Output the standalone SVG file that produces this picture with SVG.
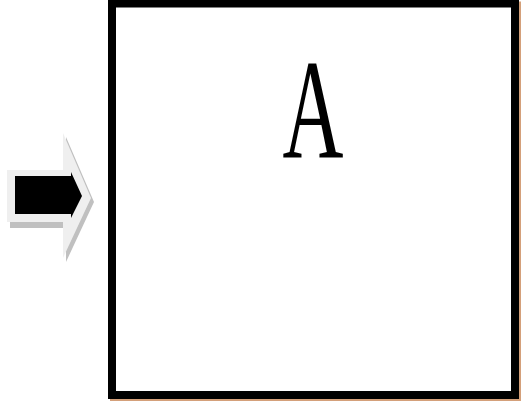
<svg xmlns="http://www.w3.org/2000/svg" width="521" height="403" viewBox="0 0 521 403">
<style>
.lbl{font-family:"Liberation Serif","Times New Roman",serif;font-size:143px;fill:#000}
</style>
<rect width="521" height="403" fill="#fff"/>
<g id="arrow">
<polygon points="10,174 66,174 66,137 94,202 66,262 66,228 10,228" fill="#c0c0c0"/>
<polygon points="7,170 63,170 63,133 91,198 63,258 63,222 7,222" fill="#efefef"/>
<polygon points="15,176 71,176 71,172 82,196 71,218 71,214 15,214" fill="#000"/>
</g>
<g id="boxA">
<rect x="114" y="5.5" width="403" height="391.5" fill="none" stroke="#d4a07a" stroke-width="8"/>
<rect x="112" y="3.5" width="403" height="391.5" fill="#fff" stroke="#000" stroke-width="8"/>
<text class="lbl" transform="translate(313,157) scale(0.59,1)" text-anchor="middle">A</text>
</g>
</svg>
